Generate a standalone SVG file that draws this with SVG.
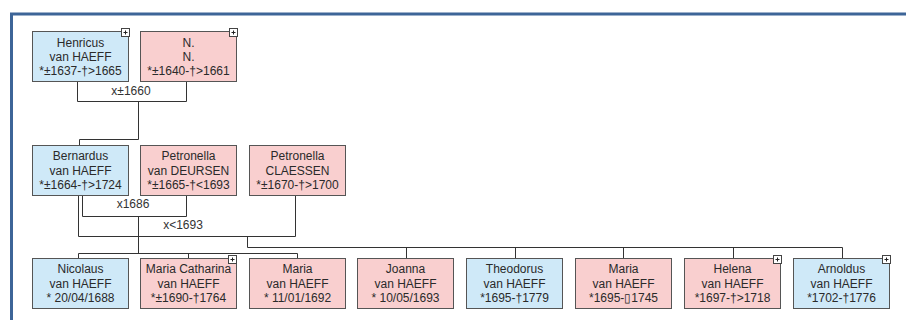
<svg xmlns="http://www.w3.org/2000/svg" width="906" height="320" viewBox="0 0 906 320">
<style>
.frame{fill:none;stroke:#3d6598;stroke-width:3}
.box{stroke:#555;stroke-width:1}
.m{fill:#cfe9f8}
.f{fill:#f9cfcf}
.t{font-family:"Liberation Sans",Arial,sans-serif;font-size:12px;fill:#2a2a2a;text-anchor:middle}
.lbl{font-family:"Liberation Sans",Arial,sans-serif;font-size:12px;fill:#333;text-anchor:middle}
.ln{fill:none;stroke:#333;stroke-width:1}
.pl{fill:#fff;stroke:#444;stroke-width:1}
.pc{stroke:#222;stroke-width:1}
</style>
<defs>
<g id="plus">
<rect class="pl" x="0.5" y="0.5" width="8" height="8"/>
<path class="pc" d="M2.5 4.5H6.5M4.5 2.5V6.5"/>
</g>
</defs>
<rect width="906" height="320" fill="#fff"/>
<rect class="frame" x="11.5" y="14" width="1000" height="400"/>
<g id="connectors">
<path class="ln" d="M77.5 82V101.5H186.5V82M138.5 101.5V139.5H79.5V145"/>
<path class="ln" d="M82.5 196V216.5H186.5V196M138.5 216.5V253.5"/>
<path class="ln" d="M78.5 196V236.5H295.5V196M247.5 236.5V247.5H842.5"/>
<path class="ln" d="M78.5 258V253.5H297.5V258M188.5 253.5V258"/>
<path class="ln" d="M406.5 247.5V258M515.5 247.5V258M623.5 247.5V258M733.5 247.5V258M842.5 247.5V258"/>
<text class="lbl" x="131" y="95">x±1660</text>
<text class="lbl" x="133" y="208">x1686</text>
<text class="lbl" x="183" y="229">x&lt;1693</text>
</g>
<g id="henricus">
<rect class="box m" x="32.5" y="31.5" width="96" height="50"/>
<text class="t" x="80.5" y="46.5">Henricus</text>
<text class="t" x="80.5" y="60.5">van HAEFF</text>
<text class="t" x="80.5" y="74.5">*±1637-†&gt;1665</text>
<use href="#plus" x="121" y="28"/>
</g>
<g id="n">
<rect class="box f" x="140.5" y="31.5" width="96" height="50"/>
<text class="t" x="188.5" y="46.5">N.</text>
<text class="t" x="188.5" y="60.5">N.</text>
<text class="t" x="188.5" y="74.5">*±1640-†&gt;1661</text>
<use href="#plus" x="229" y="28"/>
</g>
<g id="bernardus">
<rect class="box m" x="32.5" y="145.5" width="96" height="50"/>
<text class="t" x="80.5" y="160">Bernardus</text>
<text class="t" x="80.5" y="174.5">van HAEFF</text>
<text class="t" x="80.5" y="189">*±1664-†&gt;1724</text>
</g>
<g id="petronella-deursen">
<rect class="box f" x="140.5" y="145.5" width="96" height="50"/>
<text class="t" x="188.5" y="160">Petronella</text>
<text class="t" x="188.5" y="174.5">van DEURSEN</text>
<text class="t" x="188.5" y="189">*±1665-†&lt;1693</text>
</g>
<g id="petronella-claessen">
<rect class="box f" x="249.5" y="145.5" width="96" height="50"/>
<text class="t" x="297.5" y="160">Petronella</text>
<text class="t" x="297.5" y="174.5">CLAESSEN</text>
<text class="t" x="297.5" y="189">*±1670-†&gt;1700</text>
</g>
<g id="nicolaus">
<rect class="box m" x="32.5" y="258.5" width="96" height="50"/>
<text class="t" x="80.5" y="273">Nicolaus</text>
<text class="t" x="80.5" y="287.5">van HAEFF</text>
<text class="t" x="80.5" y="302">* 20/04/1688</text>
</g>
<g id="maria-catharina">
<rect class="box f" x="140.5" y="258.5" width="96" height="50"/>
<text class="t" x="188.5" y="273">Maria Catharina</text>
<text class="t" x="188.5" y="287.5">van HAEFF</text>
<text class="t" x="188.5" y="302">*±1690-†1764</text>
<use href="#plus" x="228" y="255"/>
</g>
<g id="maria-1692">
<rect class="box f" x="249.5" y="258.5" width="96" height="50"/>
<text class="t" x="297.5" y="273">Maria</text>
<text class="t" x="297.5" y="287.5">van HAEFF</text>
<text class="t" x="297.5" y="302">* 11/01/1692</text>
</g>
<g id="joanna">
<rect class="box f" x="357.5" y="258.5" width="96" height="50"/>
<text class="t" x="405.5" y="273">Joanna</text>
<text class="t" x="405.5" y="287.5">van HAEFF</text>
<text class="t" x="405.5" y="302">* 10/05/1693</text>
</g>
<g id="theodorus">
<rect class="box m" x="466.5" y="258.5" width="96" height="50"/>
<text class="t" x="514.5" y="273">Theodorus</text>
<text class="t" x="514.5" y="287.5">van HAEFF</text>
<text class="t" x="514.5" y="302">*1695-†1779</text>
</g>
<g id="maria-1695">
<rect class="box f" x="575.5" y="258.5" width="96" height="50"/>
<text class="t" x="623.5" y="273">Maria</text>
<text class="t" x="623.5" y="287.5">van HAEFF</text>
<text class="t" x="623.5" y="302">*1695-▯1745</text>
</g>
<g id="helena">
<rect class="box f" x="684.5" y="258.5" width="96" height="50"/>
<text class="t" x="732.5" y="273">Helena</text>
<text class="t" x="732.5" y="287.5">van HAEFF</text>
<text class="t" x="732.5" y="302">*1697-†&gt;1718</text>
<use href="#plus" x="773" y="255"/>
</g>
<g id="arnoldus">
<rect class="box m" x="793.5" y="258.5" width="96" height="50"/>
<text class="t" x="841.5" y="273">Arnoldus</text>
<text class="t" x="841.5" y="287.5">van HAEFF</text>
<text class="t" x="841.5" y="302">*1702-†1776</text>
<use href="#plus" x="882" y="255"/>
</g>
</svg>
